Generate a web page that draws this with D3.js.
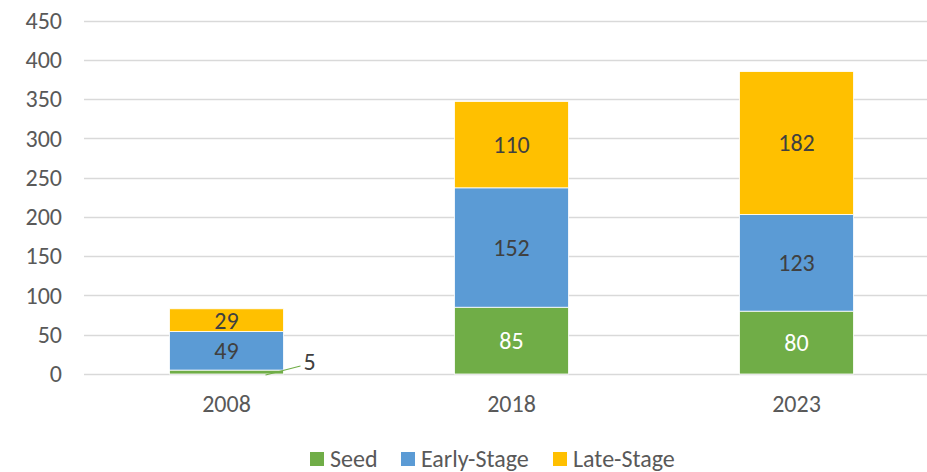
<!DOCTYPE html>
<html>
<head>
<meta charset="utf-8">
<script src="https://cdn.jsdelivr.net/npm/d3@7"></script>
<style>
  body { margin: 0; background: #fff; }
  text { font-family: Calibri, Carlito, "Open Sans", sans-serif; }
</style>
</head>
<body>
<div class="chart"></div>
<script>
const WIDTH = 927;
const HEIGHT = 472;

const years = ['2008', '2018', '2023'];
const stages = ['Seed', 'Early-Stage', 'Late-Stage'];
const seed = [5, 85, 80];
const early = [49, 152, 123];
const late = [29, 110, 182];
const yTicks = [0, 50, 100, 150, 200, 250, 300, 350, 400, 450];

const colors = ['#70AD47', '#5B9BD5', '#FFC000'];
const labelColors = ['#ffffff', '#404040', '#404040'];
const FONT = '24px';

// filas para d3.stack
const rows = years.map((y, i) => ({ year: y, 'Seed': seed[i], 'Early-Stage': early[i], 'Late-Stage': late[i] }));
const series = d3.stack().keys(stages)(rows);

const svg = d3.select('.chart').append('svg')
  .attr('width', WIDTH)
  .attr('height', HEIGHT);

const xscale = d3.scaleBand().domain(years).range([84, 939]).paddingInner(0.6).paddingOuter(0.3);
const yscale = d3.scaleLinear().domain([0, 450]).range([374, 20.5]);

// grilla
svg.append('g').selectAll('line')
  .data(yTicks)
  .enter().append('line')
    .attr('x1', 84)
    .attr('x2', WIDTH)
    .attr('y1', d => Math.round(yscale(d)) + 0.5)
    .attr('y2', d => Math.round(yscale(d)) + 0.5)
    .attr('stroke', '#d9d9d9')
    .attr('stroke-width', 1.3);

// eje y
const axisLeft = d3.axisLeft(yscale).tickValues(yTicks).tickSize(0).tickPadding(0);
const yAxis = svg.append('g')
  .attr('transform', 'translate(62, 0)')
  .call(axisLeft);
yAxis.select('.domain').remove();
yAxis.selectAll('text')
  .attr('fill', '#595959')
  .style('font-size', FONT);

// eje x
const axisBottom = d3.axisBottom(xscale).tickSize(0).tickPadding(0);
const xAxis = svg.append('g')
  .attr('transform', 'translate(0, 395)')
  .call(axisBottom);
xAxis.select('.domain').remove();
xAxis.selectAll('text')
  .attr('fill', '#595959')
  .style('font-size', FONT);

// barras
const groups = svg.selectAll('.serie')
  .data(series)
  .enter().append('g')
    .attr('class', 'serie')
    .attr('fill', (d, i) => colors[i]);

groups.selectAll('rect')
  .data(d => d)
  .enter().append('rect')
    .attr('x', d => xscale(d.data.year))
    .attr('y', d => yscale(d[1]))
    .attr('width', xscale.bandwidth())
    .attr('height', d => yscale(d[0]) - yscale(d[1]))
    .attr('stroke', '#fff')
    .attr('stroke-width', 0.8);

// etiquetas de valores
series.forEach((s, si) => {
  s.forEach((d, j) => {
    const v = d[1] - d[0];
    const cx = xscale(d.data.year) + xscale.bandwidth() / 2;
    const cy = yscale((d[0] + d[1]) / 2);
    if (v < 10) {
      // etiqueta fuera de la barra con línea guía
      const lx = xscale(d.data.year) + xscale.bandwidth() + 20;
      svg.append('line')
        .attr('x1', cx + 39)
        .attr('y1', cy + 3)
        .attr('x2', lx - 3)
        .attr('y2', cy - 6)
        .attr('stroke', colors[si])
        .attr('stroke-width', 1.2);
      svg.append('text')
        .attr('x', lx)
        .attr('y', cy - 10)
        .attr('dy', '0.35em')
        .attr('fill', '#404040')
        .style('font-size', FONT)
        .text(v);
    } else {
      svg.append('text')
        .attr('x', cx)
        .attr('y', cy)
        .attr('dy', '0.35em')
        .attr('text-anchor', 'middle')
        .attr('fill', labelColors[si])
        .style('font-size', FONT)
        .text(v);
    }
  });
});

// leyenda
const legendX = [310, 401, 553];
const legend = svg.selectAll('.legend')
  .data(stages)
  .enter().append('g')
    .attr('class', 'legend')
    .attr('transform', (d, i) => `translate(${legendX[i]}, 459)`);

legend.append('rect')
  .attr('x', 0)
  .attr('y', -7)
  .attr('width', 14)
  .attr('height', 14)
  .attr('fill', (d, i) => colors[i]);

legend.append('text')
  .attr('x', 20)
  .attr('y', 0)
  .attr('dy', '0.35em')
  .attr('fill', '#595959')
  .style('font-size', FONT)
  .text(d => d);
</script>
</body>
</html>
